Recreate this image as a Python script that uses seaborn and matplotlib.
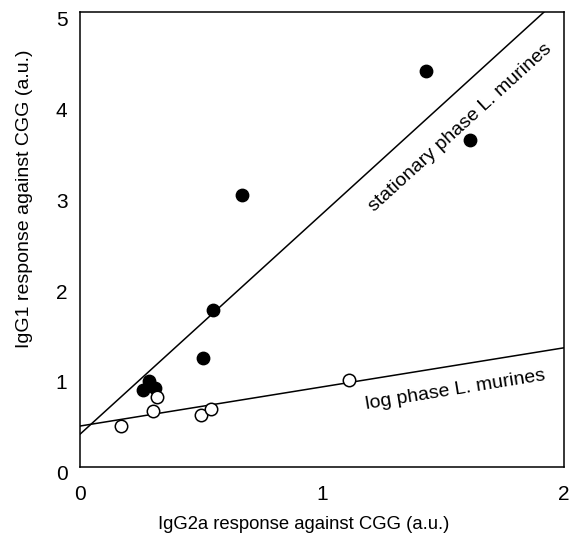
import numpy as np
import pandas as pd
import matplotlib
matplotlib.use('Agg')
import matplotlib.pyplot as plt
import matplotlib.transforms as mtransforms
import seaborn as sns

# stationary phase (filled) and log phase (open) points
stat_x = [0.26, 0.285, 0.31, 0.51, 0.55, 0.67, 1.43, 1.61]
stat_y = [0.85, 0.95, 0.87, 1.20, 1.72, 2.99, 4.35, 3.59]
log_x = [0.17, 0.30, 0.32, 0.50, 0.54, 1.11]
log_y = [0.45, 0.62, 0.77, 0.57, 0.64, 0.96]

# regression lines (intercept, slope)
stat_line = [0.36, 2.42]
log_line = [0.45, 0.43]

sns.set_style('white')
plt.rcParams['font.family'] = ['Liberation Sans', 'DejaVu Sans']
plt.rcParams['text.color'] = 'black'

fig = plt.figure(figsize=(5.73, 5.39), dpi=100)
ax = fig.add_axes([0.1396, 0.1336, 0.8448, 0.8441])

xs = np.array([0, 2.0])
ax.plot(xs, stat_line[0] + stat_line[1] * xs, color='black', lw=1.1, zorder=1)
ax.plot(xs, log_line[0] + log_line[1] * xs, color='black', lw=1.1, zorder=1)

sp = pd.DataFrame({'x': stat_x, 'y': stat_y})
lp = pd.DataFrame({'x': log_x, 'y': log_y})
sns.scatterplot(data=sp, x='x', y='y', ax=ax, color='black', edgecolor='black',
                s=80, linewidth=1, zorder=3)
sns.scatterplot(data=lp, x='x', y='y', ax=ax, color='white', edgecolor='black',
                s=80, linewidth=1.1, zorder=3)

ax.set_xlim(0, 2)
ax.set_ylim(0, 5)
ax.set_xticks([0, 1, 2])
ax.set_yticks([0, 1, 2, 3, 4, 5])
ax.tick_params(direction='in', length=4, width=1, labelsize=15, colors='black')
ax.tick_params(axis='x', pad=13)
ax.tick_params(axis='y', pad=9)
# y tick labels sit a little below their ticks in the original
shift = mtransforms.ScaledTranslation(0, -6 / 100, fig.dpi_scale_trans)
for lab in ax.get_yticklabels():
    lab.set_transform(lab.get_transform() + shift)
for s in ax.spines.values():
    s.set_color('black')
    s.set_linewidth(1.1)

ax.set_xlabel('IgG2a response against CGG (a.u.)', fontsize=13.3, va='center', color='black')
ax.xaxis.set_label_coords(0.463, -0.127)
ax.set_ylabel('IgG1 response against CGG (a.u.)', fontsize=14, va='center', color='black')
ax.yaxis.set_label_coords(-0.114, 0.59)

ax.text(1.57, 3.73, 'stationary phase L. murines', rotation=42.3, fontsize=14,
        ha='center', va='center', rotation_mode='anchor')
ax.text(1.55, 0.85, 'log phase L. murines', rotation=9.2, fontsize=14,
        ha='center', va='center', rotation_mode='anchor')

fig.savefig('out.png', dpi=100)
